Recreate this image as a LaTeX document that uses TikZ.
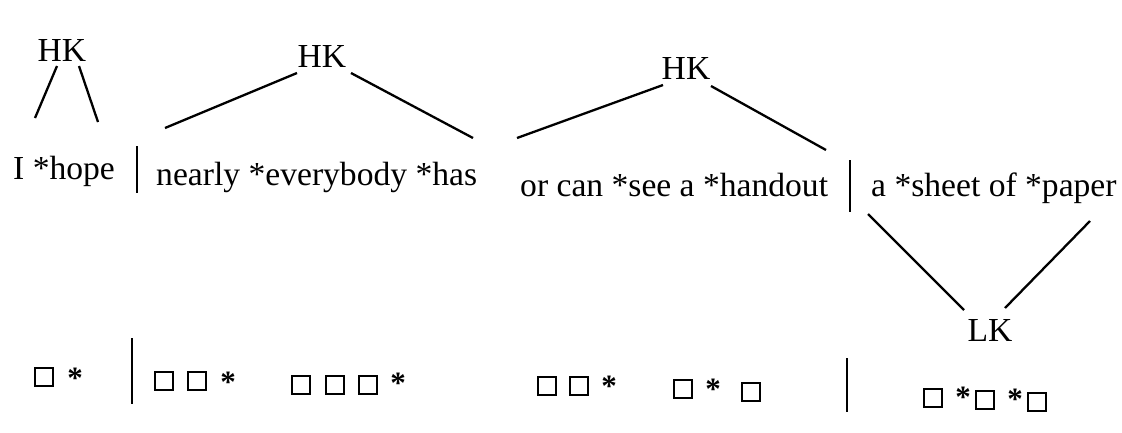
\documentclass[tikz,border=0pt]{standalone}
\usepackage{fontspec}
\setmainfont{Liberation Serif}
\begin{document}
\begin{tikzpicture}[x=1pt,y=-1pt,
  lbl/.style={inner sep=0pt,font=\fontsize{33.6}{38}\selectfont},
  wrd/.style={inner sep=0pt,anchor=base west,font=\fontsize{33.6}{38}\selectfont},
  ln/.style={line width=2.3pt},
  sq/.style={draw,line width=2.2pt,minimum size=18.5pt,inner sep=0pt},
  st/.style={inner sep=0pt,font=\bfseries\fontsize{31}{33}\selectfont}]
\useasboundingbox (0,0) rectangle (1122,432);
% top row labels
\node[lbl] (hk1) at (62,50) {HK};
\node[lbl] (hk2) at (322,56) {HK};
\node[lbl] (hk3) at (686,68) {HK};
\node[lbl] (lk) at (990,330) {LK};
% words
\node[wrd] (w1) at (13,179) {I *hope};
\node[wrd] (w2) at (156,185) {nearly *everybody *has};
\node[wrd] (w3) at (520,196) {or can *see a *handout};
\node[wrd] (w4) at (871,196) {a *sheet of *paper};
% tree lines
\coordinate (a1) at (35,118); \coordinate (a2) at (98,122);
\draw[ln] (57,66) -- (a1);
\draw[ln] (79,66) -- (a2);
\coordinate (b1) at (165,128); \coordinate (b2) at (473,138);
\draw[ln] (297,73) -- (b1);
\draw[ln] (351,73) -- (b2);
\coordinate (c1) at (517,138); \coordinate (c2) at (826,150);
\draw[ln] (663,85) -- (c1);
\draw[ln] (711,86) -- (c2);
\coordinate (d1) at (868,214); \coordinate (d2) at (1090,221);
\draw[ln] (d1) -- (964,310);
\draw[ln] (d2) -- (1005,308);
% separators
\draw[ln] (137,146) -- (137,193);
\draw[ln] (850,160) -- (850,212);
\draw[ln] (132,338) -- (132,404);
\draw[ln] (847,358) -- (847,412);
% bottom row
\node[sq] (s1) at (44,377) {};
\node[st] (t1) at (75,378) {*};
\node[sq] (s2) at (164,381) {};
\node[sq] (s3) at (197,381) {};
\node[st] (t2) at (228,382) {*};
\node[sq] (s4) at (301,385) {};
\node[sq] (s5) at (335,385) {};
\node[sq] (s6) at (368,385) {};
\node[st] (t3) at (398,383) {*};
\node[sq] (s7) at (547,386) {};
\node[sq] (s8) at (579,386) {};
\node[st] (t4) at (609,386) {*};
\node[sq] (s9) at (683,389) {};
\node[st] (t5) at (713,389) {*};
\node[sq] (s10) at (751,392) {};
\node[sq] (s11) at (933,398) {};
\node[st] (t6) at (963,397) {*};
\node[sq] (s12) at (985,400) {};
\node[st] (t7) at (1015,399) {*};
\node[sq] (s13) at (1037,402) {};
\end{tikzpicture}
\end{document}
